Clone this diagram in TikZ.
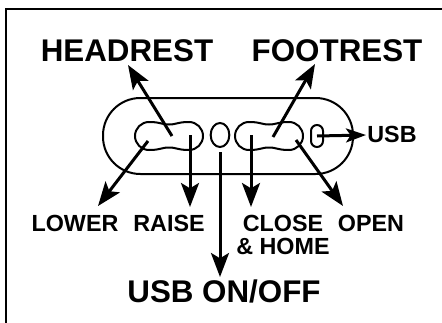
\documentclass[tikz,border=0pt]{standalone}
\usepackage{fontspec}
\setmainfont{Liberation Sans}
\usepackage{tikz}
\usetikzlibrary{arrows.meta}
\usetikzlibrary{shapes.geometric}

\begin{document}
\begin{tikzpicture}[x=0.75pt, y=0.75pt, line width=1.5pt,
		bigtxt/.style={font=\fontsize{23.5}{26}\selectfont\bfseries, inner sep=0pt, anchor=base},
		smalltxt/.style={font=\fontsize{17.5}{19}\selectfont\bfseries, inner sep=0pt, anchor=base},
		pointer/.style={line width=2.25pt, -{Stealth[length=18pt, width=13.5pt, inset=4pt]}},
		usbpointer/.style={line width=2.25pt, -{Stealth[length=15pt, width=10.5pt, inset=3.5pt]}}]
		\useasboundingbox (0,0) rectangle (442,322);
		\clip (0,0) rectangle (442,322);
		\draw[line width=1.6pt] (6,-10) -- (6,313) -- (460,313);
		% panel and buttons
		\node[draw, rounded corners=28pt, minimum width=187.5pt, minimum height=57pt, inner sep=0pt] (panel) at (228,186) {};
		\foreach \cx in {169,269} {
			\draw (\cx-20,200) .. controls (\cx-8,200) and (\cx-8,197.5) .. (\cx,197.5)
			.. controls (\cx+8,197.5) and (\cx+8,200) .. (\cx+20,200) arc (90:-90:14)
			.. controls (\cx+8,172) and (\cx+8,174.5) .. (\cx,174.5)
			.. controls (\cx-8,174.5) and (\cx-8,172) .. (\cx-20,172) arc (270:90:14) -- cycle;
		}
		\node[draw, ellipse, minimum width=14pt, minimum height=18pt, inner sep=0pt] (onoff) at (220,187) {};
		\node[draw, rounded corners=4.5pt, minimum width=9pt, minimum height=16.5pt, inner sep=0pt] (port) at (317,186) {};
		% labels
		\node[bigtxt] (headrest) at (127,260) {HEADREST};
		\node[bigtxt] (footrest) at (337,260) {FOOTREST};
		\node[bigtxt] (usbonoff) at (224,20) {USB ON/OFF};
		\node[smalltxt] (lower) at (75,91) {LOWER};
		\node[smalltxt] (raise) at (169,91) {RAISE};
		\node[smalltxt] (close) at (283,91) {CLOSE};
		\node[smalltxt] (home) at (283,68) {\& HOME};
		\node[smalltxt] (open) at (371,91) {OPEN};
		\node[smalltxt] (usb) at (392,180) {USB};
		% arrow ends
		\coordinate (hd) at (172,186);
		\coordinate (hdtip) at (128,257);
		\coordinate (lo) at (148,181);
		\coordinate (lotip) at (98,116);
		\coordinate (ra) at (190,187);
		\coordinate (ratip) at (190,115);
		\coordinate (on) at (220,170);
		\coordinate (ontip) at (220,45);
		\coordinate (cl) at (251,187);
		\coordinate (cltip) at (251,115);
		\coordinate (ft) at (273,185);
		\coordinate (fttip) at (315,258);
		\coordinate (op) at (296,182);
		\coordinate (optip) at (343,116);
		\coordinate (ustip) at (366,187);
		\foreach \a/\b in {hd/hdtip, lo/lotip, ra/ratip, on/ontip, cl/cltip, ft/fttip, op/optip} {
			\draw[pointer] (\a) -- (\b);
		}
		\draw[usbpointer] (port.center) -- (ustip);
	\end{tikzpicture}
\end{document}
